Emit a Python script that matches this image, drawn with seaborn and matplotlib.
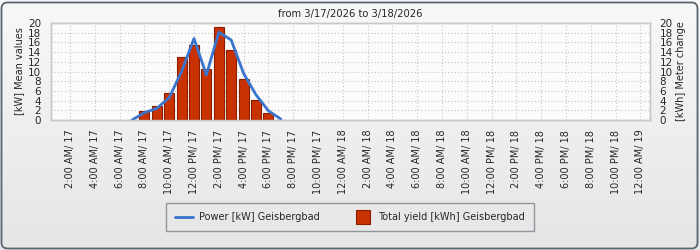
import numpy as np
import matplotlib
matplotlib.use("Agg")
import matplotlib.pyplot as plt
import seaborn as sns
from matplotlib.patches import FancyBboxPatch
from matplotlib.lines import Line2D
from matplotlib.colors import LinearSegmentedColormap

# ---- data (hours since 3/17/2026 00:00) ----
bar_hours = [7, 8, 9, 10, 11, 12, 13, 14, 15, 16, 17, 18, 19]
yield_kwh = [0.1, 1.9, 2.9, 5.6, 13.0, 15.5, 10.5, 19.2, 14.4, 8.4, 4.2, 1.5, 0.1]
line_hours = [7, 8, 9, 10, 11, 12, 13, 14, 15, 16, 17, 18, 19]
power_kw = [0.0, 1.5, 2.4, 4.6, 10.0, 16.8, 9.3, 18.1, 16.5, 9.6, 5.2, 1.9, 0.2]
tick_hours = list(range(2, 49, 2))
tick_labels = [
    "2:00 AM/ 17", "4:00 AM/ 17", "6:00 AM/ 17", "8:00 AM/ 17", "10:00 AM/ 17",
    "12:00 PM/ 17", "2:00 PM/ 17", "4:00 PM/ 17", "6:00 PM/ 17", "8:00 PM/ 17",
    "10:00 PM/ 17", "12:00 AM/ 18", "2:00 AM/ 18", "4:00 AM/ 18", "6:00 AM/ 18",
    "8:00 AM/ 18", "10:00 AM/ 18", "12:00 PM/ 18", "2:00 PM/ 18", "4:00 PM/ 18",
    "6:00 PM/ 18", "8:00 PM/ 18", "10:00 PM/ 18", "12:00 AM/ 19",
]
y_ticks = list(range(0, 21, 2))
title = "from 3/17/2026 to 3/18/2026"
line_label = "Power [kW] Geisbergbad"
bar_label = "Total yield [kWh] Geisbergbad"

bar_color = "#c83200"
bar_edge = "#8a1d00"
line_color = "#3a74cc"

sns.set_theme(style="white")
plt.rcParams['font.family'] = ['DejaVu Sans']

fig = plt.figure(figsize=(7, 2.5), dpi=100)

# background gradient
bg = fig.add_axes([0, 0, 1, 1], zorder=-10)
grad = np.linspace(0, 1, 200).reshape(-1, 1)
bg.imshow(grad, aspect='auto', extent=[0, 1, 0, 1], origin='upper',
          cmap=LinearSegmentedColormap.from_list('g', ['#f8f8f8', '#e6e6e6']))
bg.set_axis_off()
fig.add_artist(FancyBboxPatch((1.5, 1.5), 696, 246,
                              boxstyle="round,pad=0,rounding_size=6",
                              transform=None, fill=False,
                              edgecolor='#5b6570', lw=1.3))

ax = fig.add_axes([51 / 700, 130 / 250, 599 / 700, 97 / 250])
ax.set_facecolor('#fbfbfb')
sns.barplot(x=bar_hours, y=yield_kwh, native_scale=True, width=0.8,
            color=bar_color, edgecolor=bar_edge, linewidth=0.8,
            saturation=1, ax=ax, zorder=3)
ax.set_xlim(0.47, 48.77)
ax.set_ylim(0, 20)
ax.set_xticks(tick_hours)
ax.set_xticklabels(tick_labels, rotation=90, fontsize=7)
ax.set_yticks(y_ticks)
ax.set_yticklabels([str(v) for v in y_ticks], fontsize=7.5)
ax.grid(True, linestyle=(0, (1, 2)), color='#c4c4c4', lw=0.8, zorder=0)
ax.set_axisbelow(True)
ax.tick_params(axis='y', length=0, pad=7)
ax.tick_params(axis='x', length=0, pad=7)
ax.set_ylabel('[kW] Mean values', fontsize=7, labelpad=3)
for s in ax.spines.values():
    s.set_color('#c8c8c8')
    s.set_linewidth(1)

ax2 = ax.twinx()
sns.lineplot(x=line_hours, y=power_kw, ax=ax2, color=line_color, lw=2)
ax2.set_ylim(0, 20)
ax2.set_xlim(0.47, 48.77)
ax2.set_yticks(y_ticks)
ax2.set_yticklabels([str(v) for v in y_ticks], fontsize=7.5)
ax2.tick_params(axis='y', length=0, pad=7)
ax2.set_ylabel('[kWh] Meter change', fontsize=7, labelpad=2)
for s in ax2.spines.values():
    s.set_color('#c8c8c8')
    s.set_linewidth(1)

fig.text(0.5, 1 - 14 / 250, title, ha='center', va='center', fontsize=7.2)

handles = [Line2D([], [], color=line_color, lw=2),
           Line2D([], [], linestyle='none', marker='s', markersize=10,
                  markerfacecolor=bar_color, markeredgecolor=bar_edge,
                  markeredgewidth=0.8)]
leg = fig.legend(handles, [line_label, bar_label], loc='center',
                 bbox_to_anchor=(350 / 700, 1 - 217 / 250), ncol=2,
                 frameon=True, fancybox=False, fontsize=7,
                 columnspacing=3.5, handlelength=1.85, handletextpad=0.6,
                 borderpad=0.95, borderaxespad=0)
leg.get_frame().set_edgecolor('#7a8088')
leg.get_frame().set_facecolor('none')
leg.get_frame().set_linewidth(1)

fig.savefig('out.png', dpi=100)
